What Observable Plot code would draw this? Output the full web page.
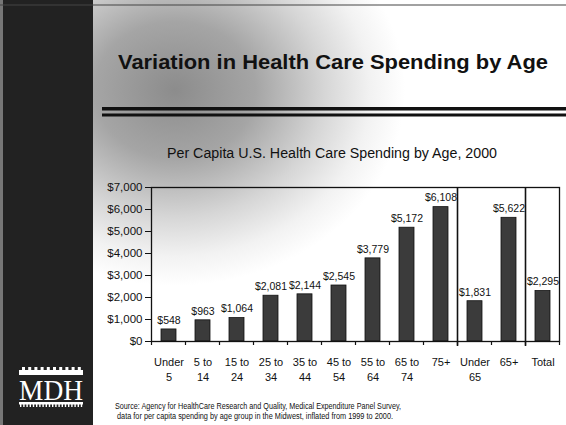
<!DOCTYPE html>
<html><head><meta charset="utf-8">
<script src="https://cdn.jsdelivr.net/npm/d3@7"></script>
<script src="https://cdn.jsdelivr.net/npm/@observablehq/plot@0.6"></script>
<style>
html,body{margin:0;padding:0;background:#fff;}
#wrap{position:relative;width:566px;height:425px;overflow:hidden;font-family:"Liberation Sans",Arial,sans-serif;}
#bg,#deco,#chart{position:absolute;left:0;top:0;}
</style></head>
<body>
<div id="wrap">
<svg id="bg" width="566" height="425"></svg>
<div id="chart"></div>
<svg id="deco" width="566" height="425"></svg>
</div>
<script>
const title = "Variation in Health Care Spending by Age";
const subtitle = "Per Capita U.S. Health Care Spending by Age, 2000";
const sourceLines = [
  "Source: Agency for HealthCare Research and Quality, Medical Expenditure Panel Survey,",
  "data for per capita spending by age group in the Midwest, inflated from 1999 to 2000."
];
const logoText = "MDH";
const categories = ["Under\n5","5 to\n14","15 to\n24","25 to\n34","35 to\n44","45 to\n54","55 to\n64","65 to\n74","75+","Under\n65","65+","Total"];
const spending = [548, 963, 1064, 2081, 2144, 2545, 3779, 5172, 6108, 1831, 5622, 2295];
const yTicks = [0, 1000, 2000, 3000, 4000, 5000, 6000, 7000];
const dividersBefore = ["Under\n65", "Total"];

const data = categories.map((c, i) => ({category: c, value: spending[i]}));
const money = d3.format("$,");

// ---------- background ----------
const bg = d3.select("#bg");
const defs = bg.append("defs");
const rg = defs.append("radialGradient").attr("id", "haze")
  .attr("gradientUnits", "userSpaceOnUse").attr("cx", 175).attr("cy", 90).attr("r", 230)
  .attr("gradientTransform", "translate(175 90) scale(1 0.85) translate(-175 -90)");
[[0, "#8c8c8c"], [0.35, "#a5a5a5"], [0.65, "#d6d6d6"], [0.85, "#f2f2f2"], [1, "#ffffff"]]
  .forEach(([o, c]) => rg.append("stop").attr("offset", o).attr("stop-color", c));
bg.append("rect").attr("width", 566).attr("height", 425).attr("fill", "#fff");
bg.append("rect").attr("width", 566).attr("height", 425).attr("fill", "url(#haze)");
bg.append("rect").attr("x", 0).attr("y", 0).attr("width", 93).attr("height", 425).attr("fill", "#222");
bg.append("rect").attr("x", 0).attr("y", 0).attr("width", 3).attr("height", 425).attr("fill", "#777");
bg.append("line").attr("x1", 0).attr("x2", 566).attr("y1", 5).attr("y2", 5).attr("stroke", "#444").attr("stroke-width", 1.2);

// ---------- chart ----------
const plot = Plot.plot({
  width: 566, height: 425,
  marginLeft: 151, marginRight: 7, marginTop: 187, marginBottom: 84,
  style: {background: "transparent", fontFamily: "'Liberation Sans', Arial, sans-serif", color: "#111"},
  x: {domain: categories, paddingInner: 0.56, paddingOuter: 0.28, label: null},
  y: {domain: [0, 7000], label: null},
  marks: [
    Plot.barY(data, {x: "category", y: "value", fill: "#3b3b3b", stroke: "#111", strokeWidth: 0.8}),
    Plot.text(data, {x: "category", y: "value", text: d => money(d.value), dy: -9, fontSize: 10.5, fill: "#111"}),
    Plot.frame({stroke: "#111", strokeWidth: 1.3}),
    Plot.axisY({ticks: yTicks, tickFormat: d => money(d), tickSize: 6, tickPadding: 3, fontSize: 11.5, label: null}),
    Plot.axisX({tickSize: 0, tickPadding: 14, fontSize: 11, lineHeight: 1.35, label: null})
  ]
});
document.getElementById("chart").appendChild(plot);

const xs = plot.scale("x"), ys = plot.scale("y");
const step = xs.step, bw = xs.bandwidth;
const center = c => xs.apply(c) + bw / 2;
const y0 = ys.apply(0), yTop = ys.apply(7000);
const boundaries = categories.map(c => center(c) - step / 2).concat([center(categories[categories.length - 1]) + step / 2]);
const g = d3.select(plot).append("g").attr("stroke", "#111");
g.selectAll("line.bt").data(boundaries).join("line")
  .attr("x1", d => d).attr("x2", d => d).attr("y1", y0).attr("y2", y0 + 4).attr("stroke-width", 1.2);
g.selectAll("line.dv").data(dividersBefore).join("line")
  .attr("x1", c => center(c) - step / 2).attr("x2", c => center(c) - step / 2)
  .attr("y1", yTop).attr("y2", y0 + 5).attr("stroke-width", 1.6);

// ---------- decorations ----------
const deco = d3.select("#deco");
deco.append("text").attr("x", 118).attr("y", 69).text(title)
  .attr("font-family", "'Liberation Sans', Arial, sans-serif").attr("font-weight", "bold")
  .attr("font-size", 20).attr("textLength", 430).attr("lengthAdjust", "spacingAndGlyphs").attr("fill", "#111");
deco.append("rect").attr("x", 102).attr("y", 107).attr("width", 464).attr("height", 3.5).attr("fill", "#111");
deco.append("rect").attr("x", 102).attr("y", 113.5).attr("width", 464).attr("height", 3).attr("fill", "#111");
deco.append("text").attr("x", 167).attr("y", 158).text(subtitle)
  .attr("font-family", "'Liberation Sans', Arial, sans-serif")
  .attr("font-size", 14).attr("textLength", 330).attr("lengthAdjust", "spacingAndGlyphs").attr("fill", "#111");
sourceLines.forEach((s, i) => {
  deco.append("text").attr("x", 115 + i * 2).attr("y", 409 + i * 10).text(s)
    .attr("font-family", "'Liberation Sans', Arial, sans-serif")
    .attr("font-size", 8.5).attr("textLength", i === 0 ? 286 : 276).attr("lengthAdjust", "spacingAndGlyphs").attr("fill", "#111");
});
// logo
const logo = deco.append("g");
logo.append("rect").attr("x", 19).attr("y", 370).attr("width", 64).attr("height", 5).attr("fill", "#fff");
for (let i = 0; i < 10; i++) logo.append("rect").attr("x", 22 + i * 6.2).attr("y", 367).attr("width", 3).attr("height", 3).attr("fill", "#fff");
logo.append("text").attr("x", 19).attr("y", 400).text(logoText)
  .attr("font-family", "'Liberation Serif', 'DejaVu Serif', serif").attr("font-size", 30)
  .attr("textLength", 64).attr("lengthAdjust", "spacingAndGlyphs").attr("fill", "#fff");
logo.append("rect").attr("x", 19).attr("y", 402).attr("width", 64).attr("height", 2.5).attr("fill", "#fff");
for (let i = 0; i < 20; i++) logo.append("rect").attr("x", 20 + i * 3.2).attr("y", 404).attr("width", 1.4).attr("height", 3).attr("fill", "#fff");
</script>
</body></html>
